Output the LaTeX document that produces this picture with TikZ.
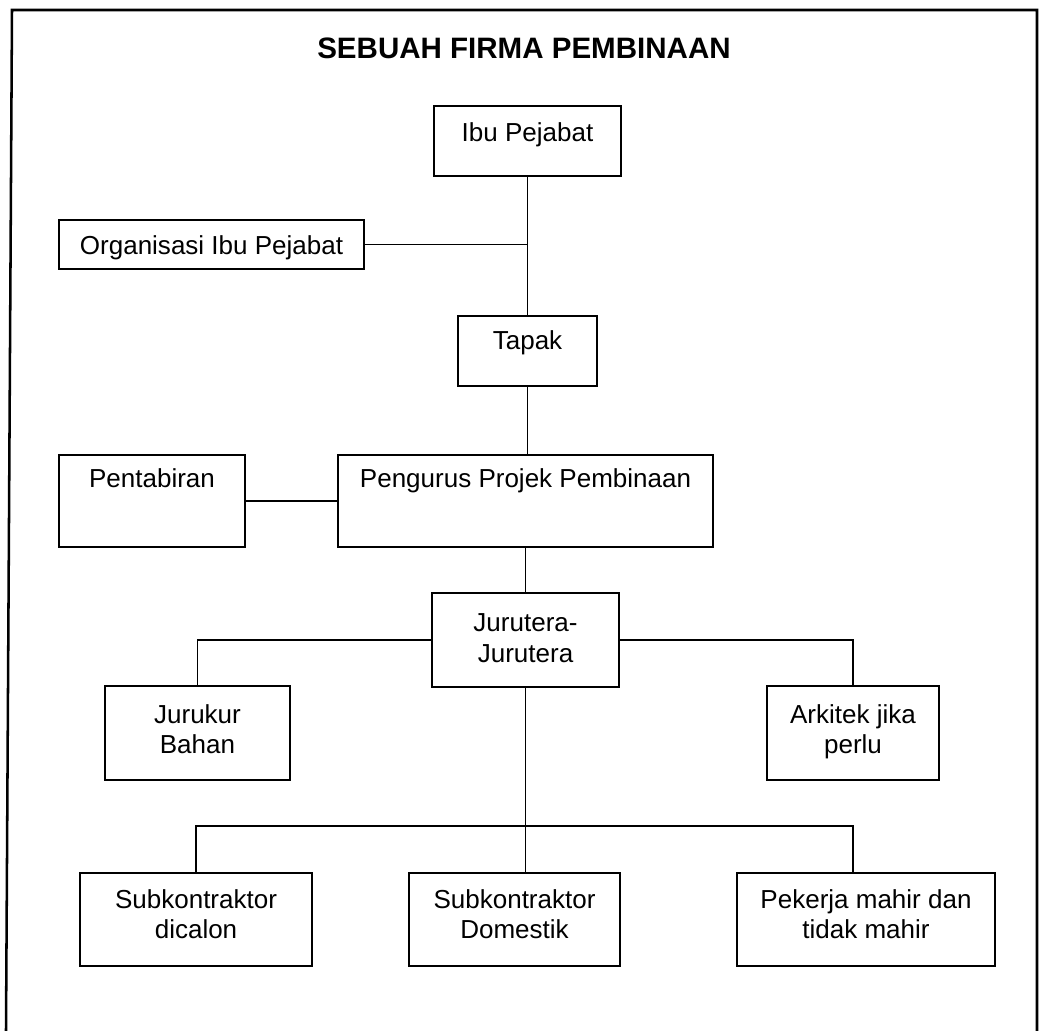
\documentclass[tikz,border=0pt]{standalone}
\usepackage{fontspec}
\setmainfont{Liberation Sans}
\tikzstyle{every node}=[inner sep=0pt]

\begin{document}
\begin{tikzpicture}[
        x=0.025cm, y=-0.025cm,
        box/.style={
                draw=black,
                line width=1.4pt,
                anchor=north west,
                align=center,
                font=\fontsize{18.5}{21.34}\selectfont
            },
        link/.style={draw=black, line width=1.1pt},
    ]
    \useasboundingbox (0,0) rectangle (1046,1031);
    % Frame
    \draw[line width=1.8pt] (6,1031) -- (12,10) -- (1037,10) -- (1037,1031);
    \node (title) at (524,48) {\fontsize{21}{24}\selectfont\bfseries SEBUAH FIRMA PEMBINAAN};

    % Head office and site
    \node[box, minimum width=4.675cm, text height=0.9cm, text depth=0.85cm] (ibu) at (433,105) {Ibu Pejabat};
    \node[box, minimum width=7.625cm, text height=0.875cm, text depth=0.35cm] (org) at (58,219) {Organisasi Ibu Pejabat};
    \node[box, minimum width=3.475cm, text height=0.85cm, text depth=0.9cm] (tapak) at (457,315) {Tapak};
    \node[box, minimum width=4.65cm, text height=0.825cm, text depth=1.475cm] (pent) at (58,454) {Pentabiran};
    \node[box, minimum width=9.375cm, text height=0.825cm, text depth=1.475cm] (peng) at (337,454) {Pengurus Projek Pembinaan};

    % Engineers
    \node[box, minimum width=4.675cm, text height=1.725cm, text depth=0.625cm] (jur) at (431,592) {Jurutera-\\Jurutera};
    \node[box, minimum width=4.625cm, text height=1.675cm, text depth=0.675cm] (jk) at (104,685) {Jurukur\\Bahan};
    \node[box, minimum width=4.3cm, text height=1.675cm, text depth=0.675cm] (ark) at (766,685) {Arkitek jika\\perlu};

    % Workers
    \node[box, minimum width=5.8cm, text height=1.625cm, text depth=0.7cm] (sd) at (79,872) {Subkontraktor\\dicalon};
    \node[box, minimum width=5.275cm, text height=1.625cm, text depth=0.7cm] (sdom) at (408,872) {Subkontraktor\\Domestik};
    \node[box, minimum width=6.45cm, text height=1.625cm, text depth=0.7cm] (pek) at (736,872) {Pekerja mahir dan\\tidak mahir};

    % Links
    \draw[link] (ibu.south) -- (ibu.south |- tapak.north);
    \draw[link] (org.east) -- (ibu.south |- org.east);
    \draw[link] (tapak.south) -- (tapak.south |- peng.north);
    \draw[link] (pent.east) -- (peng.west);
    \draw[link] (peng.south) -- (peng.south |- jur.north);
    \draw[link] (jur.west) -| (jk.north);
    \draw[link] (jur.east) -| (ark.north);
    \coordinate (bus) at (jur.south |- 0,826);
    \draw[link] (jur.south) -- (jur.south |- sdom.north);
    \draw[link] (sd.north) |- (bus) -| (ark.north |- pek.north);
\end{tikzpicture}
\end{document}
